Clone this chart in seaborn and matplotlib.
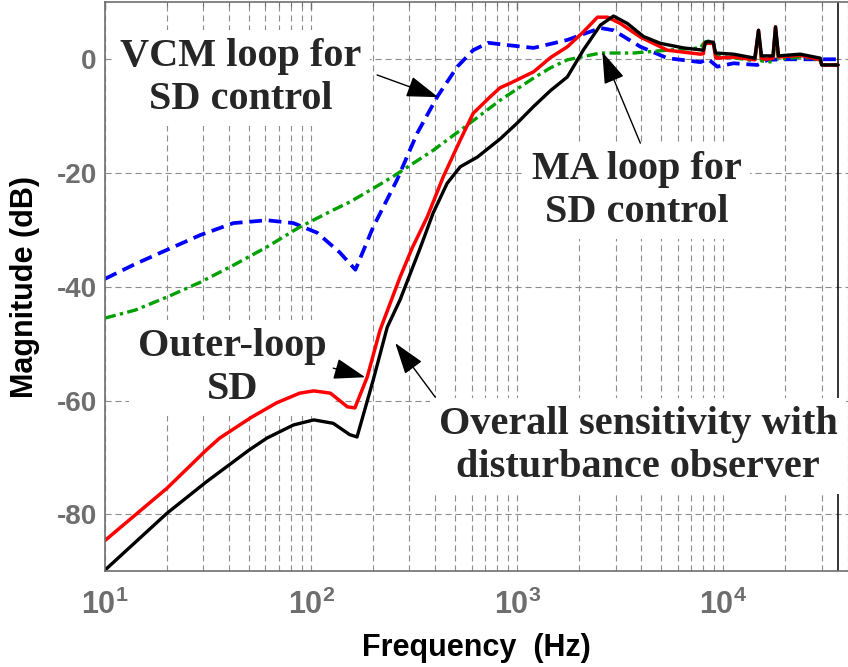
import numpy as np
import pandas as pd
import matplotlib
matplotlib.use("Agg")
import matplotlib.pyplot as plt
import seaborn as sns
from matplotlib.ticker import LogLocator, NullFormatter

# ---------------- data (Hz, dB) ----------------
vcm_f = [10, 14, 20, 29, 42, 61, 82, 107, 138, 164, 200, 261, 327, 409, 512, 611,
         723, 893, 1200, 1750, 2530, 2930, 3960, 5350, 7730, 8460, 9340, 11200,
         14600, 16400, 20000, 36000]
vcm_db = [-38.6, -36.0, -33.5, -30.9, -28.8, -28.3, -28.8, -30.5, -34.0, -37.0, -29.5,
          -21.2, -13.0, -6.6, -1.3, 1.6, 2.9, 2.5, 2.0, 3.4, 5.5, 5.1, 2.2, 0.2, -0.5,
          0.0, -1.3, -0.7, -1.0, -0.1, 0.0, 0.0]

ma_f = [10, 14, 20, 29, 42, 61, 88, 128, 154, 200, 250, 270, 391, 571, 826, 1200,
        1450, 1750, 2530, 3660, 5350, 7730, 8100, 8460, 8940, 9250, 11200, 14200,
        14800, 15300, 17400, 17900, 18500, 23600, 29500, 30000, 36000]
ma_db = [-45.5, -44.1, -41.8, -39.2, -36.2, -33.0, -29.5, -26.5, -25.1, -22.7, -20.6,
         -19.8, -16.0, -11.6, -7.2, -3.3, -1.5, -0.1, 1.1, 1.1, 1.6, 2.0, 3.0, 3.2,
         3.0, 0.5, 0.3, -0.3, 4.5, -0.3, -0.5, 5.0, 0.0, 0.4, -0.1, -1.0, -1.0]

outer_f = [10, 20, 31, 36, 51, 68, 88, 103, 124, 150, 163, 187, 216, 270, 309, 366,
           437, 529, 611, 739, 826, 925, 1200, 1450, 1750, 2090, 2450, 2740, 3160,
           3960, 5350, 7730, 8000, 8100, 8940, 9150, 9250, 11200, 14200, 14800,
           15300, 16000, 17400, 17900, 18500, 23600, 29500, 30000, 36000]
outer_db = [-84.6, -75.4, -68.7, -66.6, -63.0, -60.4, -58.7, -58.3, -58.7, -61.1,
            -61.3, -55.9, -47.6, -38.3, -33.2, -27.7, -20.7, -14.2, -9.5, -6.6, -5.0,
            -4.2, -2.2, 0.3, 2.2, 4.8, 7.4, 7.4, 6.3, 3.9, 1.6, 0.9, 1.0, 2.8, 2.8,
            0.5, 0.2, 0.4, -0.1, 5.1, 0.2, 0.0, 0.2, 5.7, 0.4, 0.7, -0.1, -1.0, -1.0]

dob_f = [10, 20, 31, 50, 61, 82, 103, 128, 154, 167, 200, 234, 270, 338, 391, 457,
         529, 640, 826, 1000, 1200, 1450, 1750, 2090, 2530, 2930, 3420, 4100, 4950,
         6400, 8000, 8200, 8460, 8940, 9150, 11200, 14200, 14800, 15300, 17400,
         17900, 18500, 23600, 29500, 30000, 36000]
dob_db = [-89.8, -79.8, -74.3, -68.7, -66.6, -64.3, -63.4, -64.0, -66.0, -66.4, -56.4,
          -47.1, -42.3, -33.2, -27.0, -21.8, -18.9, -17.2, -14.0, -11.2, -8.3, -5.5,
          -3.1, 1.6, 6.0, 7.6, 6.3, 4.0, 2.8, 2.0, 1.6, 3.0, 3.1, 3.0, 1.1, 0.9, 0.2,
          5.1, 0.6, 0.6, 5.7, 0.6, 0.9, 0.2, -1.0, -1.0]

nyquist_hz = 36000
y_ticks = [-80, -60, -40, -20, 0]
x_ticks = [10, 100, 1000, 10000]
x_ticklabels = [r"$\mathbf{10^{%d}}$" % k for k in range(1, 5)]

# ---------------- style ----------------
sns.set_style("white")
plt.rcParams['font.family'] = ['Liberation Sans', 'DejaVu Sans']
plt.rcParams['mathtext.fontset'] = 'custom'
plt.rcParams['mathtext.bf'] = 'Liberation Sans:bold'
plt.rcParams['mathtext.rm'] = 'Liberation Sans:bold'
plt.rcParams['axes.unicode_minus'] = False

grey = '#6e6e6e'
fig = plt.figure(figsize=(8.48, 6.67), dpi=100)
ax = fig.add_axes([105 / 848, 95.8 / 667, 742.5 / 848, 568.8 / 667])

ax.axvline(nyquist_hz, color='k', lw=1.1, zorder=1.2)

sns.lineplot(x=vcm_f, y=vcm_db, ax=ax, color='#0000ff', lw=2.7, estimator=None,
             linestyle=(0, (3.4, 1.8)))
sns.lineplot(x=ma_f, y=ma_db, ax=ax, color='#00a000', lw=2.4, estimator=None,
             linestyle=(0, (3.3, 1.3, 1.0, 1.3)))
sns.lineplot(x=outer_f, y=outer_db, ax=ax, color='#ff0000', lw=2.5, estimator=None)
sns.lineplot(x=dob_f, y=dob_db, ax=ax, color='k', lw=2.4, estimator=None)

ax.set_xscale('log')
ax.set_xlim(10, 4e4)
ax.set_ylim(-90, 10)
ax.set_xticks(x_ticks)
ax.set_xticklabels(x_ticklabels)
ax.xaxis.set_minor_locator(LogLocator(base=10, subs=np.arange(2, 10), numticks=30))
ax.xaxis.set_minor_formatter(NullFormatter())
ax.set_yticks(y_ticks)
ax.set_yticklabels([str(v) for v in y_ticks])

gls = (0, (5.5, 3.5))
ax.grid(True, which='major', color='#8c8c8c', lw=0.8, linestyle=gls)
ax.grid(True, which='minor', axis='x', color='#8c8c8c', lw=0.8, linestyle=gls)
ax.set_axisbelow(True)

ax.tick_params(which='both', direction='in', top=True, right=False, color=grey,
               labelcolor=grey, labelsize=20)
ax.tick_params(axis='x', labelsize=22)
ax.tick_params(which='major', length=5, width=1)
ax.tick_params(which='minor', length=3, width=0.8)
ax.tick_params(axis='y', pad=6)
ax.tick_params(axis='x', pad=13)
for s in ['left', 'bottom', 'top']:
    ax.spines[s].set_color(grey)
    ax.spines[s].set_linewidth(1.2)
ax.spines['right'].set_visible(False)
for lab in ax.get_yticklabels():
    lab.set_fontweight('bold')

ax.set_xlabel('Frequency  (Hz)', fontsize=22, fontweight='bold', color='k')
ax.set_ylabel('Magnitude (dB)', fontsize=22, fontweight='bold', color='k')
ax.xaxis.set_label_coords(0.5, -0.108)
ax.yaxis.set_label_coords(-0.088, 0.5)

# ---------------- annotations ----------------
tfont = dict(family='Liberation Serif', fontsize=29, fontweight='bold', ha='center',
             va='center', linespacing=1.2, zorder=1.5,
             bbox=dict(facecolor='white', edgecolor='none', pad=6))
arw = dict(arrowstyle='-|>,head_length=0.9,head_width=0.3', color='k', lw=1,
           mutation_scale=22, shrinkA=0, shrinkB=0)

ax.text(45.7, -3.3, 'VCM loop for\nSD control', **tfont)
ax.annotate('', xy=(413, -6.65), xytext=(209, -2.76), arrowprops=arw, zorder=5)

ax.text(3785, -23.2, 'MA loop for\nSD control', **tfont)
ax.annotate('', xy=(2586, 1.28), xytext=(3955, -14.75), arrowprops=arw, zorder=5)

ax.text(41.4, -54.3, 'Outer-loop\nSD', **tfont)
ax.annotate('', xy=(183, -55.9), xytext=(128, -54.3), arrowprops=arw, zorder=5)

ax.text(3865, -68.0, 'Overall sensitivity with\ndisturbance observer', **tfont)
ax.annotate('', xy=(256, -49.9), xytext=(400, -59.4), arrowprops=arw, zorder=5)

fig.savefig('out.png', dpi=100)
